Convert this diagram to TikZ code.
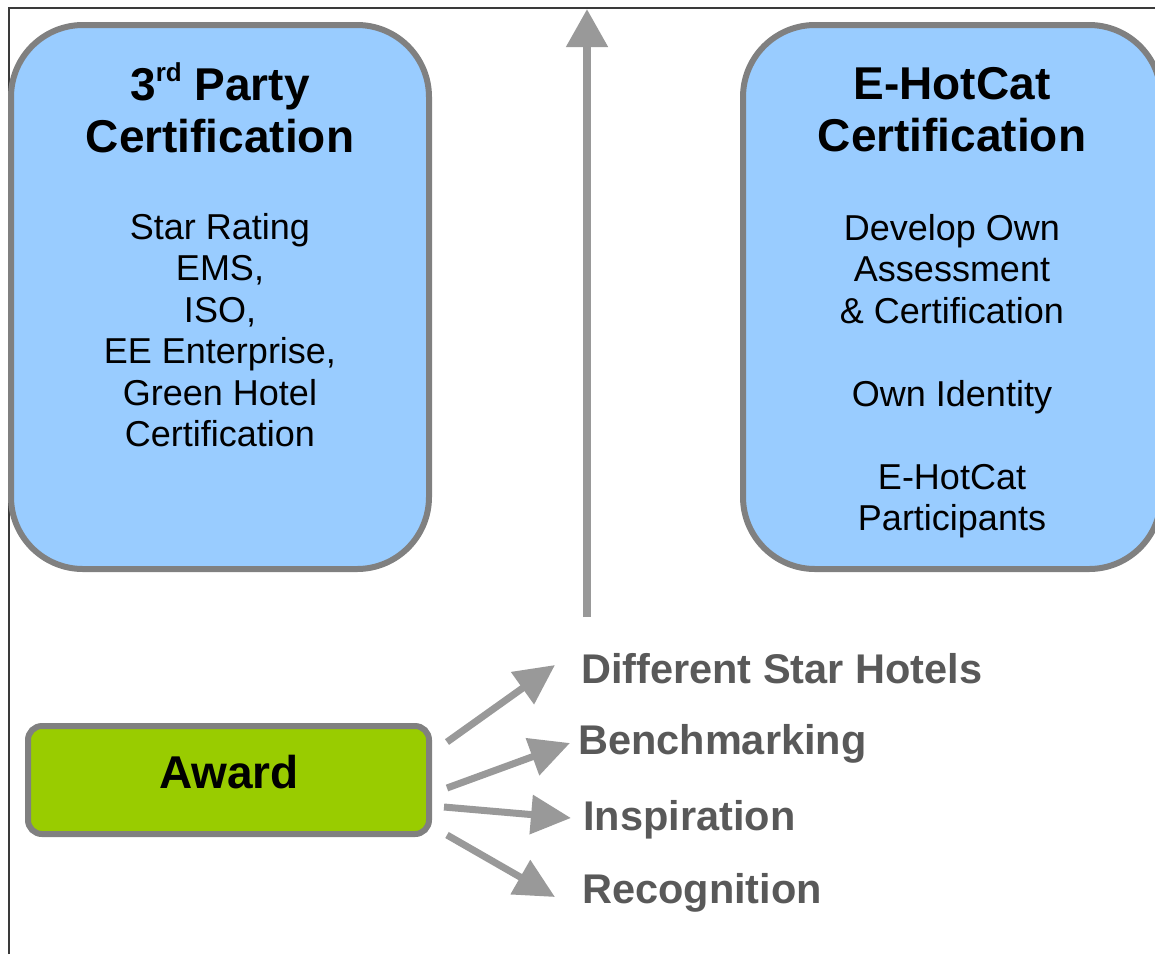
\documentclass[tikz,border=0pt]{standalone}
\usepackage{fontspec}
\setmainfont{Liberation Sans}
\usetikzlibrary{arrows.meta}

\definecolor{skyfill}{HTML}{99CCFF}
\definecolor{boxgray}{HTML}{808080}
\definecolor{arrgray}{HTML}{999999}
\definecolor{labgray}{HTML}{595959}
\definecolor{awardgreen}{HTML}{99CC00}
\definecolor{framegray}{HTML}{3A3A3A}

\newcommand{\supsmall}[1]{\raisebox{19pt}{\fontsize{26}{26}\selectfont #1}}

\begin{document}
\begin{tikzpicture}[x=1pt,y=-1pt,
    certbox/.style={draw=boxgray,line width=6pt,fill=skyfill,rounded corners=72pt,
      minimum width=418pt,minimum height=544pt,inner sep=0pt},
    awardbox/.style={draw=boxgray,line width=6pt,fill=awardgreen,rounded corners=14pt,
      minimum width=401pt,minimum height=108pt,inner sep=0pt},
    title/.style={font=\fontsize{46}{52}\selectfont\bfseries,align=center,inner sep=0pt},
    body/.style={font=\fontsize{36}{41.5}\selectfont,align=center,inner sep=0pt},
    lab/.style={font=\fontsize{41.5}{44}\selectfont\bfseries,text=labgray,anchor=base west,inner sep=0pt},
    bigarr/.style={draw=arrgray,line width=8pt,-{Triangle[width=40pt,length=38pt]}},
    arr/.style={draw=arrgray,line width=7pt,-{Triangle[width=38pt,length=40pt]}}]
      \clip (0,0) rectangle (1155,954);

      %% frame
      \draw[framegray,line width=2pt] (9,954) |- (1155,8);

      %% certification boxes
      \node[certbox] (third) at (220,297) {};
      \node[certbox] (ehot) at (952,297) {};

      %% box texts
      \node[title] (thirdtitle) at (220,108) {3\supsmall{rd} Party\\Certification};
      \node[body] (thirdbody) at (220,330) {Star Rating\\EMS,\\ISO,\\EE Enterprise,\\Green Hotel\\Certification};
      \node[title] (ehottitle) at (952,110) {E-HotCat\\Certification};
      \node[body] (ehotbody) at (952,376) {Develop Own\\Assessment\\\& Certification\\[41.5pt]Own Identity\\[41.5pt]E-HotCat\\Participants};

      %% upward arrow
      \coordinate (upfoot) at (587,617);
      \coordinate (uptip) at (587,9);
      \draw[bigarr] (upfoot) -- (uptip);

      %% award
      \node[awardbox] (award) at (228.5,780) {};
      \node[font=\fontsize{46}{52}\selectfont\bfseries,anchor=base,inner sep=0pt] (awardtxt) at (229,788) {Award};

      %% labels
      \node[lab] (stars) at (581,683) {Different Star Hotels};
      \node[lab] (bench) at (578,754) {Benchmarking};
      \node[lab] (inspire) at (583,830) {Inspiration};
      \node[lab] (recog) at (582,903) {Recognition};

      %% arrows
      % award -> stars
      \draw[arr] ([shift={(15,-38)}]award.east) -- ([shift={(-26,-18)}]stars.base west);
      % award -> bench
      \draw[arr] ([shift={(15,8)}]award.east) -- ([shift={(-8,-11)}]bench.base west);
      % award -> inspire
      \draw[arr] ([shift={(12,27)}]award.east) -- ([shift={(-12,-12)}]inspire.base west);
      % award -> recog
      \draw[arr] ([shift={(15,55)}]award.east) -- ([shift={(-27,-6)}]recog.base west);

   \end{tikzpicture}
\end{document}
